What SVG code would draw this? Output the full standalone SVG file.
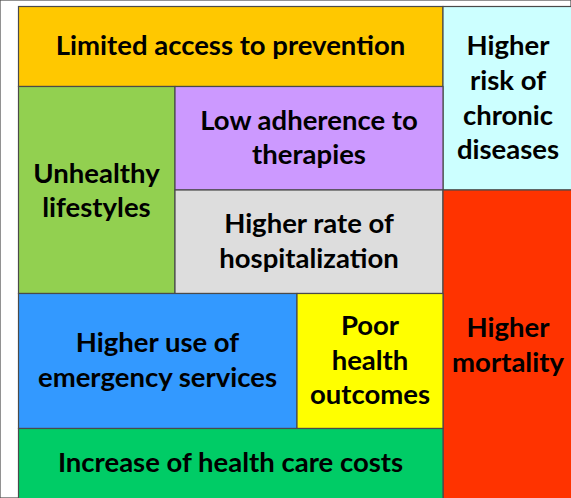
<svg xmlns="http://www.w3.org/2000/svg" width="571" height="498" viewBox="0 0 571 498">
<style>
rect{stroke:#4a4a4a;stroke-width:1.2}
text{font-family:Lato,"Liberation Sans",sans-serif;font-weight:bold;font-size:27.5px;fill:#000;text-anchor:middle}
</style>
<rect x="0" y="0" width="571" height="498" fill="#fff" stroke="none"/>
<g id="limited-access">
<rect x="18.5" y="6.5" width="424.5" height="80" fill="#FFC800"/>
<text x="230.5" y="55">Limited access to prevention</text>
</g>
<g id="chronic">
<rect x="443" y="6.5" width="135" height="183.5" fill="#CCFFFF"/>
<text x="508" y="55">Higher</text>
<text x="508" y="90">risk of</text>
<text x="508" y="125">chronic</text>
<text x="508" y="159">diseases</text>
</g>
<g id="unhealthy">
<rect x="18.5" y="86.5" width="156.5" height="207" fill="#92D050"/>
<text x="96.5" y="183">Unhealthy</text>
<text x="96.5" y="217">lifestyles</text>
</g>
<g id="adherence">
<rect x="175" y="86.5" width="268" height="103.5" fill="#CC99FF"/>
<text x="309" y="130">Low adherence to</text>
<text x="309" y="164">therapies</text>
</g>
<g id="hospitalization">
<rect x="175" y="190" width="268" height="103.5" fill="#DDDDDD"/>
<text x="309" y="233">Higher rate of</text>
<text x="309" y="268">hospitalization</text>
</g>
<g id="mortality">
<rect x="443" y="190" width="135" height="315" fill="#FF3300"/>
<text x="508" y="337">Higher</text>
<text x="508" y="372">mortality</text>
</g>
<g id="emergency">
<rect x="18.5" y="293.5" width="278.5" height="135" fill="#3399FF"/>
<text x="157.5" y="352">Higher use of</text>
<text x="157.5" y="387">emergency services</text>
</g>
<g id="outcomes">
<rect x="297" y="293.5" width="146" height="135" fill="#FFFF00"/>
<text x="370" y="335">Poor</text>
<text x="370" y="370">health</text>
<text x="370" y="404">outcomes</text>
</g>
<g id="costs">
<rect x="18.5" y="428.5" width="424.5" height="75" fill="#00CC66"/>
<text x="230.5" y="472">Increase of health care costs</text>
</g>
<g id="connectors"></g>
</svg>
